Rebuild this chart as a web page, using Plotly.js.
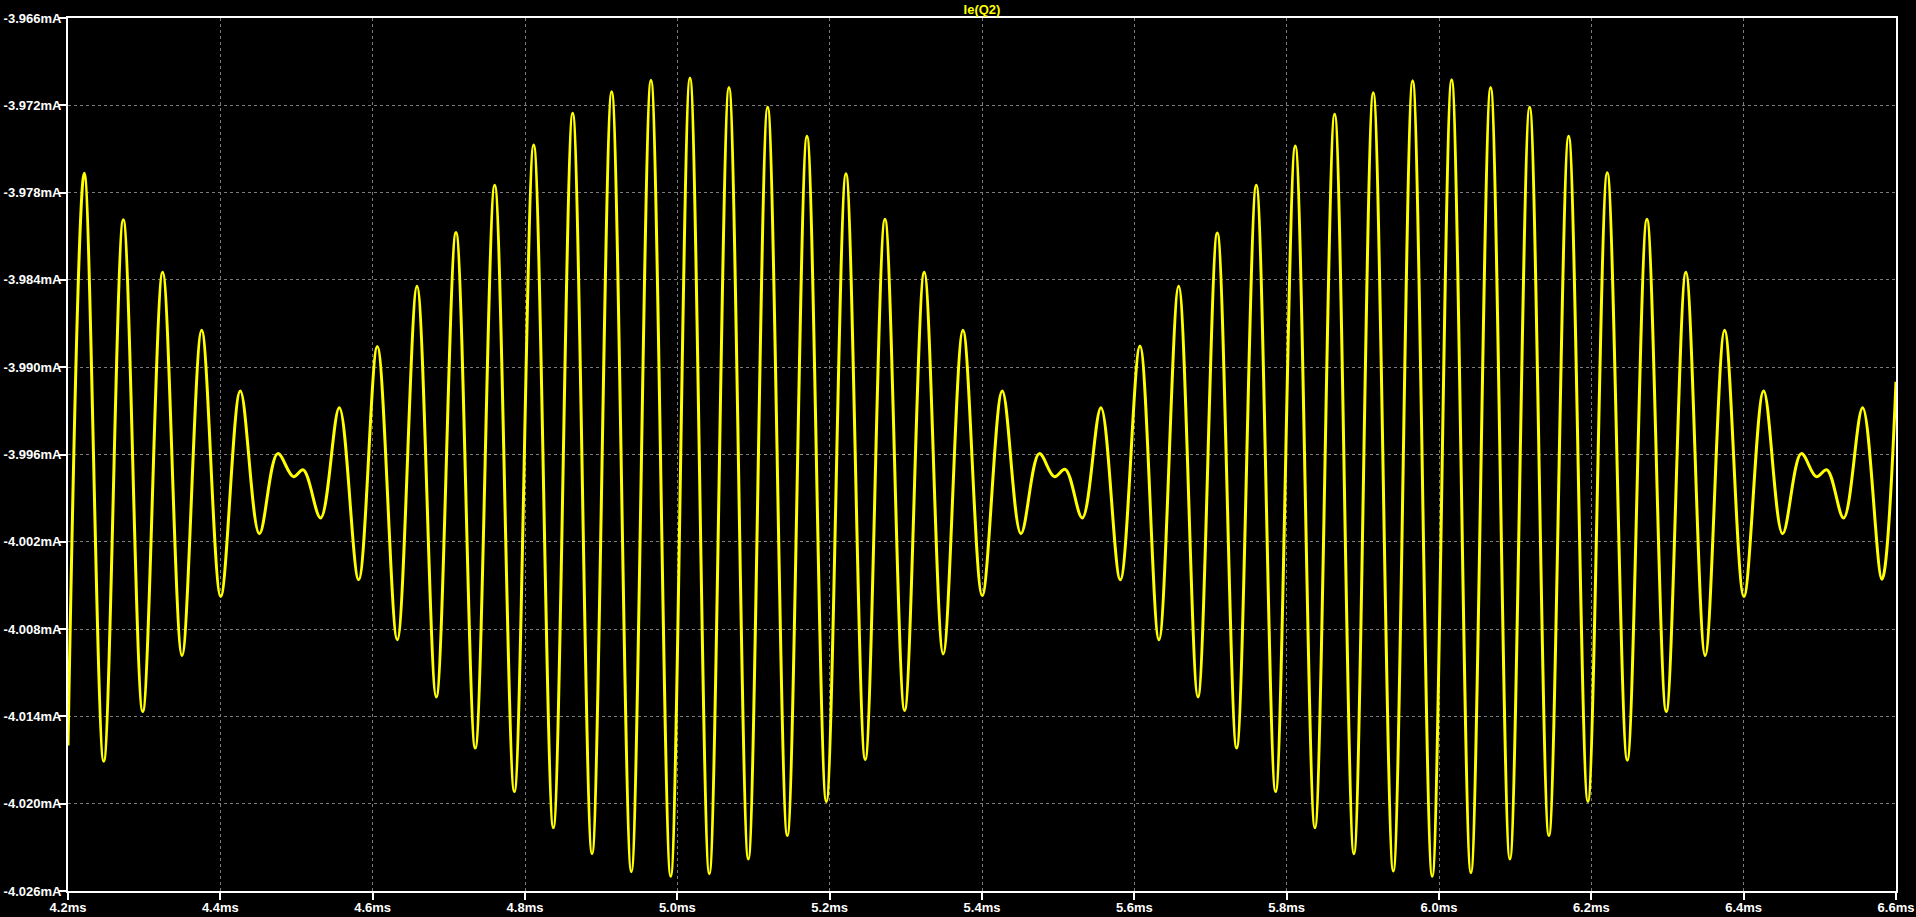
<!DOCTYPE html>
<html>
<head>
<meta charset="utf-8">
<script src="https://cdn.plot.ly/plotly-3.0.1.min.js"></script>
<style>
  html, body { margin: 0; padding: 0; background: #000; }
  #chart { width: 1916px; height: 917px; }
</style>
</head>
<body>
<div id="chart"></div>
<script>
const timeMs = [4.2000, 4.2214, 4.2469, 4.2726, 4.2981, 4.3243, 4.3497, 4.3755, 4.4005, 4.4262,
  4.4512, 4.4753, 4.4958, 4.5089, 4.5317, 4.5562, 4.5816, 4.6061, 4.6323, 4.6582,
  4.6835, 4.7094, 4.7347, 4.7602, 4.7860, 4.8114, 4.8372, 4.8626, 4.8880, 4.9138,
  4.9396, 4.9654, 4.9913, 5.0166, 5.0420, 5.0678, 5.0932, 5.1186, 5.1444, 5.1702,
  5.1956, 5.2214, 5.2467, 5.2726, 5.2984, 5.3242, 5.3491, 5.3750, 5.4003, 5.4266,
  5.4511, 5.4752, 5.4949, 5.5093, 5.5317, 5.5562, 5.5816, 5.6074, 5.6323, 5.6582,
  5.6835, 5.7089, 5.7343, 5.7601, 5.7855, 5.8113, 5.8371, 5.8630, 5.8883, 5.9137,
  5.9400, 5.9654, 5.9911, 6.0166, 6.0419, 6.0678, 6.0931, 6.1190, 6.1443, 6.1702,
  6.1955, 6.2209, 6.2472, 6.2730, 6.2984, 6.3242, 6.3495, 6.3750, 6.4003, 6.4262,
  6.4511, 6.4756, 6.4953, 6.5093, 6.5313, 6.5562, 6.5816, 6.6000];

const currentMa = [-4.01600, -3.97667, -4.01708, -3.97987, -4.01367, -3.98347, -4.00982, -3.98746, -4.00576, -3.99163,
  -4.00144, -3.99594, -3.99752, -3.99706, -4.00036, -3.99278, -4.00461, -3.98857, -4.00874, -3.98444,
  -4.01266, -3.98074, -4.01618, -3.97750, -4.01917, -3.97473, -4.02165, -3.97254, -4.02344, -3.97107,
  -4.02467, -3.97027, -4.02499, -3.97013, -4.02481, -3.97078, -4.02380, -3.97214, -4.02219, -3.97412,
  -4.01985, -3.97671, -4.01697, -3.97984, -4.01359, -3.98347, -4.00971, -3.98746, -4.00569, -3.99163,
  -4.00144, -3.99594, -3.99752, -3.99702, -4.00036, -3.99278, -4.00461, -3.98854, -4.00874, -3.98444,
  -4.01266, -3.98077, -4.01618, -3.97750, -4.01917, -3.97480, -4.02165, -3.97261, -4.02344, -3.97114,
  -4.02463, -3.97031, -4.02499, -3.97024, -4.02474, -3.97078, -4.02380, -3.97214, -4.02219, -3.97412,
  -4.01985, -3.97664, -4.01701, -3.97984, -4.01367, -3.98347, -4.00982, -3.98746, -4.00576, -3.99163,
  -4.00144, -3.99594, -3.99752, -3.99706, -4.00036, -3.99278, -4.00457, -3.99100];

const xTickVals = [4.2, 4.4, 4.6, 4.8, 5.0, 5.2, 5.4, 5.6, 5.8, 6.0, 6.2, 6.4, 6.6];
const xTickText = ["4.2ms", "4.4ms", "4.6ms", "4.8ms", "5.0ms", "5.2ms", "5.4ms", "5.6ms", "5.8ms", "6.0ms", "6.2ms", "6.4ms", "6.6ms"];
const yTickVals = [-3.966, -3.972, -3.978, -3.984, -3.990, -3.996, -4.002, -4.008, -4.014, -4.020, -4.026];
const yTickText = ["-3.966mA", "-3.972mA", "-3.978mA", "-3.984mA", "-3.990mA", "-3.996mA", "-4.002mA", "-4.008mA", "-4.014mA", "-4.020mA", "-4.026mA"];
const traceName = "Ie(Q2)";

const tickFont = { family: "Liberation Sans, Arial, sans-serif", size: 13, color: "#ffffff", weight: "bold" };

const trace = {
  x: timeMs,
  y: currentMa,
  type: "scatter",
  mode: "lines",
  name: traceName,
  line: { color: "#ffff00", width: 3, shape: "spline", smoothing: 1 },
  hoverinfo: "skip"
};

const axisCommon = {
  showline: true,
  mirror: true,
  linecolor: "#ffffff",
  linewidth: 2,
  ticks: "outside",
  ticklen: 7,
  tickwidth: 2,
  tickcolor: "#ffffff",
  showgrid: true,
  gridcolor: "#7a7a7a",
  gridwidth: 1,
  griddash: "3px,3px",
  zeroline: false,
  tickfont: tickFont,
  fixedrange: true
};

const layout = {
  width: 1916,
  height: 917,
  paper_bgcolor: "#000000",
  plot_bgcolor: "#000000",
  margin: { l: 68, r: 20, t: 18, b: 26, pad: 0 },
  showlegend: false,
  title: {
    text: traceName,
    font: { family: "Liberation Sans, Arial, sans-serif", size: 13, color: "#ffff00", weight: "bold" },
    xref: "paper", x: 0.5, xanchor: "center",
    yref: "container", y: 0.990, yanchor: "middle"
  },
  xaxis: Object.assign({}, axisCommon, {
    range: [4.2, 6.6],
    tickmode: "array",
    tickvals: xTickVals,
    ticktext: xTickText,
    ticklabelstandoff: -4
  }),
  yaxis: Object.assign({}, axisCommon, {
    range: [-4.026, -3.966],
    tickmode: "array",
    tickvals: yTickVals,
    ticktext: yTickText,
    ticklabelstandoff: -5
  })
};

Plotly.newPlot("chart", [trace], layout, { displayModeBar: false, staticPlot: true });
</script>
</body>
</html>
